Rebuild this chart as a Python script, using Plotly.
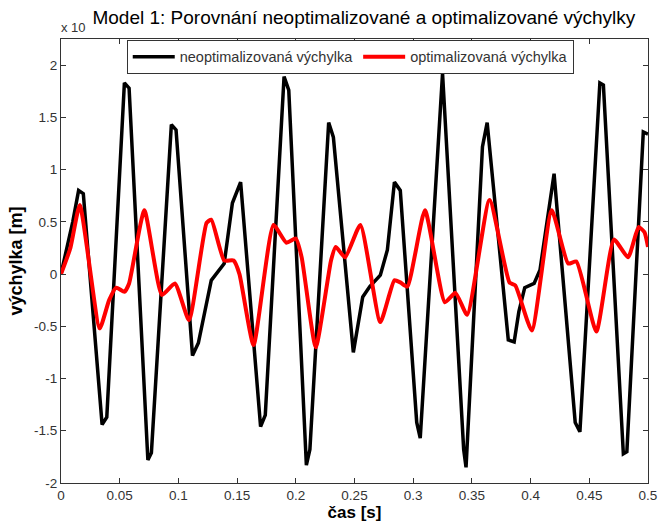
import plotly.graph_objects as go

# black: neoptimalizovaná výchylka
t_neopt = [0, 0.010, 0.015, 0.019, 0.035, 0.039, 0.054, 0.058, 0.074, 0.077,
           0.094, 0.098, 0.112, 0.117, 0.128, 0.139, 0.146, 0.153, 0.170, 0.174,
           0.190, 0.194, 0.209, 0.212, 0.228, 0.232, 0.249, 0.257, 0.263, 0.272,
           0.278, 0.284, 0.289, 0.303, 0.306, 0.325, 0.343, 0.345, 0.359, 0.363,
           0.381, 0.386, 0.390, 0.395, 0.403, 0.408, 0.420, 0.438, 0.442, 0.459,
           0.462, 0.479, 0.482, 0.496, 0.500]
y_neopt = [0, 0.50, 0.80, 0.77, -1.44, -1.37, 1.83, 1.78, -1.78, -1.71,
           1.43, 1.38, -0.78, -0.66, -0.06, 0.10, 0.68, 0.88, -1.46, -1.35,
           1.89, 1.76, -1.83, -1.68, 1.45, 1.31, -0.75, -0.22, -0.12, -0.01,
           0.23, 0.88, 0.80, -1.42, -1.57, 1.92, -1.68, -1.85, 1.22, 1.45,
           -0.63, -0.65, -0.36, -0.13, -0.09, 0.04, 0.96, -1.42, -1.51, 1.83,
           1.81, -1.72, -1.70, 1.36, 1.34]

# red: optimalizovaná výchylka
t_opt = [0, 0.008, 0.016, 0.033, 0.041, 0.047, 0.054, 0.058, 0.071, 0.086,
         0.097, 0.109, 0.124, 0.128, 0.139, 0.147, 0.152, 0.164, 0.181, 0.192,
         0.200, 0.205, 0.217, 0.230, 0.234, 0.242, 0.255, 0.272, 0.284, 0.289,
         0.295, 0.310, 0.327, 0.336, 0.346, 0.365, 0.382, 0.387, 0.401, 0.418,
         0.432, 0.439, 0.456, 0.471, 0.483, 0.492, 0.497, 0.500]
y_opt = [0, 0.25, 0.66, -0.52, -0.25, -0.13, -0.17, -0.09, 0.61, -0.20,
         -0.09, -0.44, 0.49, 0.52, 0.13, 0.13, 0.00, -0.68, 0.47, 0.30,
         0.34, 0.16, -0.70, 0.13, 0.26, 0.16, 0.47, -0.46, -0.06, -0.08,
         -0.12, 0.61, -0.27, -0.18, -0.39, 0.71, -0.08, -0.11, -0.54, 0.61,
         0.10, 0.12, -0.55, 0.33, 0.16, 0.45, 0.40, 0.26]

x_ticks = [0, 0.05, 0.1, 0.15, 0.2, 0.25, 0.3, 0.35, 0.4, 0.45, 0.5]
x_ticklabels = ["0", "0.05", "0.1", "0.15", "0.2", "0.25", "0.3", "0.35", "0.4", "0.45", "0.5"]
y_ticks = [-2, -1.5, -1, -0.5, 0, 0.5, 1, 1.5, 2]
y_ticklabels = ["-2", "-1.5", "-1", "-0.5", "0", "0.5", "1", "1.5", "2"]

tickfont = dict(family="Liberation Sans Narrow, Arial Narrow, Liberation Sans", size=13.5, color="#333333")

fig = go.Figure()
fig.add_trace(go.Scatter(x=t_neopt, y=y_neopt, mode="lines",
                         line=dict(color="black", width=3.5),
                         name="neoptimalizovaná výchylka"))
fig.add_trace(go.Scatter(x=t_opt, y=y_opt, mode="lines",
                         line=dict(color="#ff0000", width=4, shape="spline", smoothing=0.5),
                         name="optimalizovaná výchylka"))

fig.update_layout(
    width=658, height=523,
    margin=dict(l=61, r=10, t=39, b=40, autoexpand=False),
    paper_bgcolor="white", plot_bgcolor="white",
    showlegend=True,
    legend=dict(orientation="h", x=0.112, y=0.998, xanchor="left", yanchor="top",
                bordercolor="#333333", borderwidth=1, bgcolor="white",
                font=dict(family="Liberation Sans, Arial", size=14.5, color="#333333"),
                itemwidth=42, tracegroupgap=0),
    title=dict(text="Model 1: Porovnání neoptimalizované a optimalizované výchylky",
               x=0.553, xanchor="center", xref="container",
               y=0.966, yanchor="middle", yref="container",
               font=dict(family="Liberation Sans, Arial", size=19, color="black")),
    xaxis=dict(range=[0, 0.5], tickvals=x_ticks, ticktext=x_ticklabels,
               ticklabeloverflow="allow", automargin=False,
               ticks="inside", ticklen=5, tickcolor="#333333", mirror="ticks",
               showline=True, linecolor="#333333", linewidth=1,
               showgrid=False, zeroline=False, tickfont=tickfont,
               title=dict(text="<b>čas [s]</b>", standoff=3,
                          font=dict(family="Liberation Sans, Arial", size=17, color="black"))),
    yaxis=dict(range=[-2, 2.25], tickvals=y_ticks, ticktext=y_ticklabels,
               ticklabeloverflow="allow", automargin=False,
               ticks="inside", ticklen=5, tickcolor="#333333", mirror="ticks",
               showline=True, linecolor="#333333", linewidth=1,
               showgrid=False, zeroline=False, tickfont=tickfont,
               title=dict(text="<b>výchylka [m]</b>", standoff=6,
                          font=dict(family="Liberation Sans, Arial", size=18, color="black"))),
    annotations=[dict(text="x 10", xref="paper", yref="paper", x=-0.004, y=1.004,
                      xanchor="left", yanchor="bottom", showarrow=False,
                      font=dict(family="Liberation Sans, Arial", size=13, color="#333333"))],
)

fig.write_html("out.html")
